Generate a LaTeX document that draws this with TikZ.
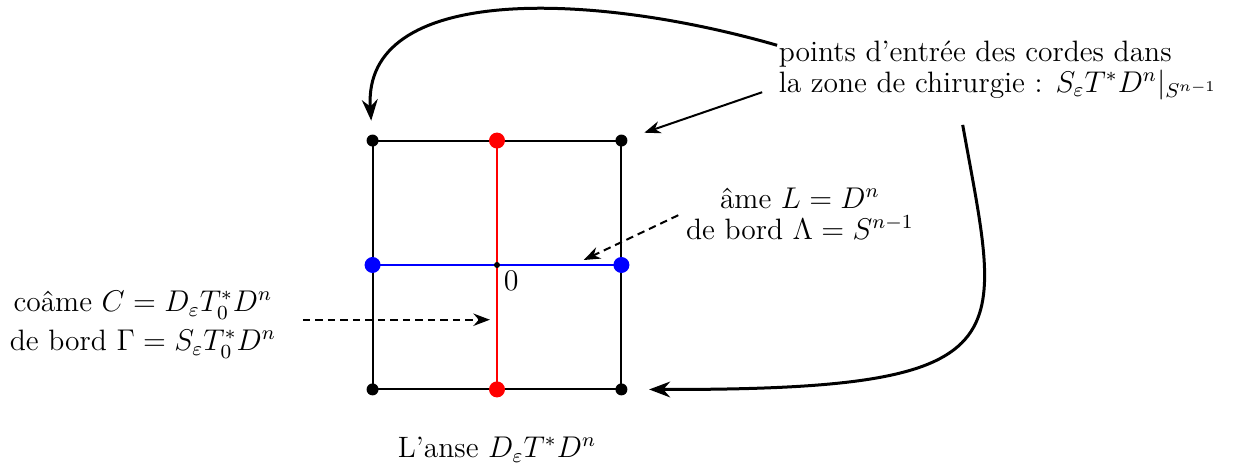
\documentclass[tikz,border=0pt]{standalone}
\usepackage{amsmath}
\usetikzlibrary{arrows.meta,positioning}

\begin{document}
\begin{tikzpicture}[
  every node/.style={font=\fontsize{11.8}{12.5}\selectfont},
  edge/.style={thick},
  cdot/.style={circle, fill=black, inner sep=0pt, minimum size=4.8pt},
  rdot/.style={circle, fill=red, inner sep=0pt, minimum size=6.4pt},
  bdot/.style={circle, fill=blue, inner sep=0pt, minimum size=6.4pt},
  odot/.style={circle, fill=black, inner sep=0pt, minimum size=2.4pt},
  sweep/.style={-{Stealth}, very thick},
  hint/.style={-{Stealth}, thick, dash pattern=on 3pt off 2pt}
]
\useasboundingbox (-6.99,-2.911) rectangle (10.408,3.727);
% the handle
\coordinate (tl) at (-1.75,1.75);
\coordinate (tr) at (1.75,1.75);
\coordinate (bl) at (-1.75,-1.75);
\coordinate (br) at (1.75,-1.75);
\coordinate (top) at (0,1.75);
\coordinate (bot) at (0,-1.75);
\coordinate (lft) at (-1.75,0);
\coordinate (rgt) at (1.75,0);
\draw[edge] (tl) rectangle (br);
\draw[edge, red] (top) -- (bot);
\draw[edge, blue] (lft) -- (rgt);
\foreach \c in {tl,tr,bl,br} \node[cdot] at (\c) {};
\node[rdot] at (top) {};
\node[rdot] at (bot) {};
\node[bdot] at (lft) {};
\node[bdot] at (rgt) {};
\node[odot] (o) at (0,0) {};
\node (zero) at (0.2,-0.23) {$0$};
% labels
\node[anchor=west, align=left] (entree) at (3.84,2.74)
  {points d'entrée des cordes dans\\la zone de chirurgie : $S_\varepsilon T^*D^n|_{S^{n-1}}$};
\node[align=center] (ame) at (4.26,0.72) {âme $L=D^n$\\de bord $\Lambda=S^{n-1}$};
\node[align=center] (coame) at (-4.98,-0.84)
  {coâme $C=D_\varepsilon T_0^*D^n$\\[3pt]de bord $\Gamma=S_\varepsilon T_0^*D^n$};
\node (anse) at (0,-2.60) {L'anse $D_\varepsilon T^*D^n$};
% connectors
\coordinate (s1) at (3.94,3.09);
\coordinate (s2) at (3.73,2.43);
\coordinate (s3) at (6.55,1.97);
\coordinate (s4) at (2.55,0.70);
\coordinate (e4) at (1.22,0.07);
\coordinate (s5) at (-2.73,-0.77);
\coordinate (e5) at (-0.10,-0.77);
\draw[sweep, shorten >=2.8mm] (s1) .. controls (1.3,3.85) and (-1.9,3.95) .. (tl);
\draw[sweep, thick, shorten >=3.4mm] (s2) -- (tr);
\draw[sweep, shorten >=3.9mm] (s3) .. controls (7.1,-1.1) and (7.5,-1.76) .. (br);
\draw[hint] (s4) -- (e4);
\draw[hint] (s5) -- (e5);
\end{tikzpicture}
\end{document}
